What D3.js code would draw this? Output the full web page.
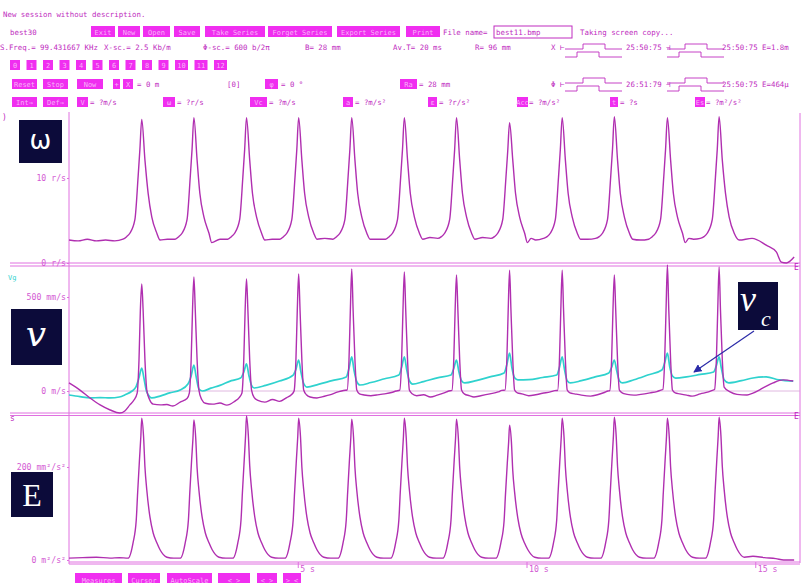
<!DOCTYPE html>
<html>
<head>
<meta charset="utf-8">
<script src="https://cdn.jsdelivr.net/npm/d3@7"></script>
<style>
  html, body { margin: 0; padding: 0; background: #fff; overflow: hidden; }
  svg text.mono { font-family: "DejaVu Sans Mono", monospace; }
</style>
</head>
<body>
<script>
'use strict';

// ---- data: [time s, value] ----
const omega = [
  [0,2.7],[0.2,2.6],[0.4,2.8],[0.6,2.6],[0.8,2.7],[1.0,2.6],[1.18,2.8],
  [1.26,3.1],[1.33,3.5],[1.44,5.1],[1.51,10.1],[1.55,13.4],[1.59,16.9],[1.66,12.1],[1.73,8.2],[1.81,5.4],[1.92,3.5],[1.99,2.7],[2.15,2.8],
  [2.32,2.8],[2.40,3.1],[2.47,3.5],[2.58,5.1],[2.65,10.1],[2.69,13.4],[2.73,17.1],[2.80,12.1],[2.86,8.2],[2.95,5.4],[3.06,3.5],[3.12,2.4],[3.30,2.8],
  [3.47,2.8],[3.55,3.1],[3.62,3.5],[3.73,5.1],[3.80,10.1],[3.84,13.4],[3.88,17.1],[3.95,12.1],[4.01,8.2],[4.10,5.4],[4.21,3.5],[4.28,2.7],[4.44,2.8],
  [4.61,2.8],[4.69,3.1],[4.76,3.5],[4.87,5.1],[4.94,10.1],[4.98,13.4],[5.02,17.1],[5.09,12.1],[5.15,8.2],[5.24,5.4],[5.35,3.5],[5.42,2.8],[5.59,2.9],
  [5.77,2.8],[5.85,3.1],[5.92,3.5],[6.03,5.1],[6.10,10.1],[6.14,13.4],[6.18,17.1],[6.25,12.1],[6.31,8.2],[6.40,5.4],[6.51,3.5],[6.58,2.8],[6.75,2.8],
  [6.92,2.8],[7.00,3.1],[7.07,3.5],[7.18,5.1],[7.25,10.1],[7.29,13.4],[7.33,17.1],[7.40,12.1],[7.46,8.2],[7.55,5.4],[7.66,3.5],[7.73,2.8],[7.89,3.0],
  [8.06,2.9],[8.14,3.1],[8.21,3.5],[8.32,5.1],[8.39,10.1],[8.43,13.4],[8.47,17.1],[8.54,12.1],[8.60,8.2],[8.69,5.4],[8.80,3.5],[8.87,2.8],[9.04,3.0],
  [9.22,2.9],[9.30,3.1],[9.37,3.5],[9.48,5.1],[9.55,10.0],[9.59,13.2],[9.63,16.5],[9.70,12.1],[9.76,8.2],[9.85,5.4],[9.96,3.5],[10.02,2.4],[10.10,2.9],[10.20,2.7],
  [10.37,2.9],[10.45,3.1],[10.52,3.5],[10.63,5.1],[10.70,10.1],[10.74,13.4],[10.78,17.1],[10.85,12.1],[10.91,8.2],[11.00,5.4],[11.11,3.5],[11.18,2.8],[11.34,2.8],
  [11.51,2.9],[11.59,3.1],[11.66,3.5],[11.77,5.1],[11.84,10.1],[11.88,13.4],[11.92,17.2],[11.99,12.1],[12.05,8.2],[12.14,5.4],[12.25,3.5],[12.32,2.8],[12.49,2.7],
  [12.67,2.8],[12.75,3.1],[12.82,3.5],[12.93,5.1],[13.00,10.1],[13.04,13.4],[13.08,17.1],[13.15,12.1],[13.21,8.2],[13.30,5.4],[13.41,3.5],[13.47,2.4],[13.55,2.9],[13.65,2.8],
  [13.80,2.9],[13.88,3.1],[13.95,3.5],[14.06,5.1],[14.13,10.1],[14.17,13.4],[14.21,17.2],[14.28,12.1],[14.35,8.2],[14.43,5.4],[14.54,3.5],[14.65,2.7],
  [14.93,2.9],[15.24,2.1],[15.46,1.3],[15.57,0.1],[15.68,0.0],[15.85,0.7]
];

const velocity = [
  [0,43],[0.24,5],[0.46,-37],[0.68,-74],[0.90,-101],[1.11,-117],[1.22,-106],[1.33,-74],[1.42,-48],
  [1.49,-11],[1.53,165],[1.56,431],[1.59,569],[1.62,431],[1.66,165],[1.70,5],
  [1.76,-45],[1.84,-70],[2.00,-74],[2.14,-72],[2.27,-80],[2.43,-59],[2.58,-40],
  [2.63,-11],[2.67,165],[2.70,431],[2.73,607],[2.76,431],[2.80,165],[2.84,5],
  [2.90,-45],[2.98,-65],[3.14,-70],[3.30,-64],[3.45,-75],[3.62,-55],[3.72,-35],
  [3.78,-11],[3.82,165],[3.85,431],[3.88,596],[3.91,431],[3.95,165],[3.99,5],
  [4.05,-35],[4.13,-50],[4.28,-59],[4.45,-45],[4.60,-55],[4.76,-35],[4.86,-20],
  [4.92,0],[4.96,165],[4.99,431],[5.02,622],[5.05,431],[5.09,165],[5.13,5],
  [5.19,-20],[5.27,-32],[5.42,-37],[5.55,-30],[5.70,-21],[5.88,-5],[6.00,3],
  [6.08,5],[6.12,165],[6.15,431],[6.18,649],[6.21,431],[6.25,165],[6.29,5],
  [6.35,-15],[6.45,-21],[6.60,-25],[6.72,-21],[6.90,-15],[7.05,-8],[7.15,0],
  [7.23,5],[7.27,165],[7.30,431],[7.33,633],[7.36,431],[7.40,165],[7.44,5],
  [7.50,-15],[7.60,-25],[7.75,-20],[7.90,-32],[8.05,-22],[8.20,-10],[8.30,0],
  [8.37,3],[8.41,165],[8.44,431],[8.47,617],[8.50,431],[8.54,165],[8.58,5],
  [8.64,-15],[8.75,-25],[8.85,-32],[9.00,-25],[9.20,-15],[9.38,-5],[9.46,3],
  [9.53,5],[9.57,165],[9.60,431],[9.63,643],[9.66,431],[9.70,165],[9.74,5],
  [9.80,-10],[9.90,-15],[10.05,-25],[10.20,-20],[10.35,-12],[10.52,-5],[10.62,2],
  [10.68,3],[10.72,165],[10.75,431],[10.78,643],[10.81,431],[10.85,165],[10.89,5],
  [10.95,-10],[11.05,-15],[11.20,-22],[11.40,-27],[11.55,-20],[11.70,-8],[11.78,0],
  [11.82,2],[11.86,165],[11.89,431],[11.92,617],[11.95,431],[11.99,165],[12.03,5],
  [12.09,-10],[12.20,-18],[12.35,-22],[12.50,-18],[12.70,-10],[12.85,-3],[12.94,5],
  [12.98,8],[13.02,165],[13.05,431],[13.08,670],[13.11,431],[13.15,165],[13.19,5],
  [13.25,-10],[13.35,-15],[13.50,-22],[13.62,-27],[13.80,-15],[13.98,-5],[14.08,5],
  [14.11,8],[14.15,165],[14.18,431],[14.21,660],[14.24,431],[14.28,165],[14.32,21],
  [14.45,-5],[14.60,-18],[14.82,-21],[14.95,-11],[15.17,16],[15.39,43],[15.61,59],[15.83,53]
];

const velocityC = [
  [0,-21],[0.24,-30],[0.46,-37],[0.68,-35],[0.90,-37],[1.10,-32],[1.22,-21],[1.38,0],[1.46,20],
  [1.53,70],[1.59,122],[1.64,65],[1.70,-5],[1.81,-37],[1.99,-27],[2.20,-10],[2.43,5],[2.60,37],
  [2.67,80],[2.73,138],[2.78,75],[2.84,10],[2.92,0],[3.10,15],[3.30,30],[3.55,55],[3.75,69],
  [3.82,100],[3.88,144],[3.93,85],[3.99,30],[4.05,16],[4.30,30],[4.60,53],[4.90,85],
  [4.96,115],[5.02,165],[5.07,100],[5.13,40],[5.20,21],[5.45,35],[5.75,55],[6.06,75],
  [6.12,120],[6.18,181],[6.23,110],[6.29,50],[6.36,32],[6.60,45],[6.90,65],[7.21,85],
  [7.27,125],[7.33,181],[7.38,115],[7.44,55],[7.51,37],[7.75,50],[8.05,70],[8.35,85],
  [8.41,120],[8.47,165],[8.52,105],[8.58,55],[8.65,43],[8.90,55],[9.20,75],[9.51,96],
  [9.57,140],[9.63,202],[9.68,125],[9.74,70],[9.81,59],[10.05,60],[10.35,72],[10.66,85],
  [10.72,125],[10.78,181],[10.83,115],[10.89,55],[10.96,43],[11.20,55],[11.50,75],[11.80,96],
  [11.86,125],[11.92,165],[11.97,110],[12.03,55],[12.10,43],[12.35,60],[12.65,85],[12.96,112],
  [13.02,150],[13.08,202],[13.13,130],[13.19,80],[13.26,69],[13.50,75],[13.80,88],[14.09,101],
  [14.15,135],[14.21,181],[14.26,120],[14.32,60],[14.42,43],[14.70,55],[14.95,69],[15.24,75],[15.52,59],[15.83,53]
];

const energy = [
  [0,4],[0.3,5],[0.6,6],[0.9,4],[1.1,5],
  [1.29,4],[1.40,37],[1.47,86],[1.50,144],[1.54,215],[1.57,265],[1.59,305],[1.63,265],[1.66,200],[1.70,151],[1.77,92],[1.84,58],[1.92,37],[1.99,22],[2.14,6],[2.29,4],
  [2.43,4],[2.54,37],[2.61,86],[2.64,144],[2.68,215],[2.71,262],[2.73,301],[2.77,262],[2.80,198],[2.84,150],[2.91,92],[2.98,58],[3.06,37],[3.13,22],[3.28,6],[3.43,4],
  [3.58,4],[3.69,37],[3.76,86],[3.79,144],[3.83,215],[3.86,268],[3.88,310],[3.92,268],[3.95,203],[3.99,153],[4.06,93],[4.13,58],[4.21,37],[4.28,22],[4.43,6],[4.58,4],
  [4.72,4],[4.83,37],[4.90,86],[4.93,144],[4.97,215],[5.00,265],[5.02,305],[5.06,265],[5.09,200],[5.13,151],[5.20,92],[5.27,58],[5.35,37],[5.42,22],[5.57,6],[5.72,4],
  [5.88,4],[5.99,37],[6.06,86],[6.09,144],[6.13,215],[6.16,263],[6.18,303],[6.22,263],[6.25,199],[6.29,150],[6.36,92],[6.43,58],[6.51,37],[6.58,22],[6.73,6],[6.88,4],
  [7.03,4],[7.14,37],[7.21,86],[7.24,144],[7.28,215],[7.31,265],[7.33,305],[7.37,265],[7.40,200],[7.44,151],[7.51,92],[7.58,58],[7.66,37],[7.73,22],[7.88,6],[8.03,4],
  [8.17,4],[8.28,37],[8.35,86],[8.38,144],[8.42,215],[8.45,263],[8.47,303],[8.51,263],[8.54,199],[8.58,150],[8.65,92],[8.72,58],[8.80,37],[8.87,22],[9.02,6],[9.17,4],
  [9.33,4],[9.44,37],[9.51,84],[9.54,140],[9.58,208],[9.61,254],[9.63,290],[9.67,254],[9.70,192],[9.74,146],[9.81,90],[9.88,57],[9.96,36],[10.03,22],[10.18,6],[10.33,4],
  [10.48,4],[10.59,37],[10.66,86],[10.69,144],[10.73,215],[10.76,265],[10.78,305],[10.82,265],[10.85,200],[10.89,151],[10.96,92],[11.03,58],[11.11,37],[11.18,22],[11.33,6],[11.48,4],
  [11.62,4],[11.73,37],[11.80,86],[11.83,144],[11.87,216],[11.90,267],[11.92,307],[11.96,267],[11.99,201],[12.03,152],[12.10,92],[12.17,58],[12.25,37],[12.32,22],[12.47,6],[12.62,4],
  [12.78,4],[12.89,37],[12.96,86],[12.99,144],[13.03,215],[13.06,265],[13.08,305],[13.12,265],[13.15,200],[13.19,151],[13.26,92],[13.33,58],[13.41,37],[13.48,22],[13.63,6],[13.78,4],
  [13.91,4],[14.02,37],[14.09,86],[14.12,144],[14.16,216],[14.19,267],[14.21,307],[14.25,267],[14.28,201],[14.32,152],[14.39,92],[14.46,58],[14.54,37],[14.61,22],[14.76,6],
  [14.95,8],[15.20,5],[15.45,3],[15.62,0],[15.85,0]
];

// tick values and labels
const timeTicks = [5, 10, 15];
const timeLabels = ["5 s", "10 s", "15 s"];
const omegaTicks = [0, 10];
const omegaLabels = ["0 r/s", "10 r/s"];
const vTicks = [0, 500];
const vLabels = ["0 m/s", "500 mm/s"];
const eTicks = [0, 200];
const eLabels = ["0 m\u00b2/s\u00b2", "200 mm\u00b2/s\u00b2"];

// ---- screen layout of the acquisition program ----
const MAG = "#b02fb0";
const FRAME = "#e070e0";
const BTN = "#f02ef0";
const TXT = "#c02cc0";
const CYAN = "#2fd2ce";

const svg = d3.select("body").append("svg")
  .attr("width", 809).attr("height", 583);

const x = d3.scaleLinear().domain([0, 16]).range([69, 801]);
const yW = d3.scaleLinear().domain([0, 10]).range([263, 178]);
const yV = d3.scaleLinear().domain([0, 500]).range([391, 297]);
const yE = d3.scaleLinear().domain([0, 200]).range([560, 467]);

function text(g, px, py, s, opts) {
  opts = opts || {};
  return g.append("text").attr("class", "mono")
    .attr("x", px).attr("y", py)
    .attr("fill", opts.fill || TXT)
    .attr("font-size", opts.size || 7.4)
    .attr("text-anchor", opts.anchor || "start")
    .text(s);
}

function button(g, bx, by, w, h, label) {
  g.append("rect").attr("x", bx).attr("y", by).attr("width", w).attr("height", h)
    .attr("fill", BTN);
  g.append("text").attr("class", "mono").attr("x", bx + w / 2).attr("y", by + h - 2.5)
    .attr("text-anchor", "middle").attr("font-size", 7).attr("fill", "#f8b4f8")
    .text(label);
}

function wave(g, wx, wy) {
  g.append("path")
    .attr("d", `M${wx},${wy + 6}h18v-5h22v5h17 M${wx},${wy + 14}h12v-5h22v5h23`)
    .attr("fill", "none").attr("stroke", TXT).attr("stroke-width", 0.9);
}

// header
const head = svg.append("g");
const headerTexts = [
  [3, 17, "New session without description."],
  [10, 35, "best30"],
  [443, 35, "File name="],
  [580, 35, "Taking screen copy..."],
  [0, 50, "S.Freq.= 99.431667 KHz"],
  [104, 50, "X-sc.= 2.5 Kb/m"],
  [203, 50, "\u03a6-sc.= 600 b/2\u03c0"],
  [305, 50, "B= 28 mm"],
  [393, 50, "Av.T= 20 ms"],
  [475, 50, "R= 96 mm"],
  [551, 50, "X \u22a2"],
  [626, 50, "25:50:75 \u22a3"],
  [722, 50, "25:50:75 E=1.8m"],
  [137, 87, "= 0 m"],
  [227, 87, "[0]"],
  [281, 87, "= 0 \u00b0"],
  [419, 87, "= 28 mm"],
  [551, 87, "\u03a6 \u22a2"],
  [626, 87, "26:51:79 \u22a3"],
  [722, 87, "25:50:75 E=464\u03bc"],
  [90, 105, "= ?m/s"], [177, 105, "= ?r/s"], [269, 105, "= ?m/s"], [355, 105, "= ?m/s\u00b2"],
  [439, 105, "= ?r/s\u00b2"], [529, 105, "= ?m/s\u00b2"], [620, 105, "= ?s"], [706, 105, "= ?m\u00b2/s\u00b2"]
];
headerTexts.forEach(t => text(head, t[0], t[1], t[2]));

const buttons = [
  [91, 26, 24, 11, "Exit"], [118, 26, 22, 11, "New"], [143, 26, 27, 11, "Open"], [174, 26, 26, 11, "Save"],
  [205, 26, 60, 11, "Take Series"], [268, 26, 64, 11, "Forget Series"], [337, 26, 63, 11, "Export Series"],
  [406, 26, 34, 11, "Print"],
  [12, 79, 25, 10, "Reset"], [43, 79, 25, 10, "Stop"], [77, 79, 26, 10, "Now"], [113, 79, 7, 10, "+"],
  [123, 79, 10, 10, "X"], [265, 79, 13, 10, "\u03c6"], [400, 79, 17, 10, "Ra"],
  [12, 97, 25, 10, "Int\u2192"], [43, 97, 25, 10, "Def\u2192"], [77, 97, 11, 10, "V"], [163, 97, 12, 10, "\u03c9"],
  [250, 97, 17, 10, "Vc"], [343, 97, 10, 10, "a"], [428, 97, 9, 10, "\u03b5"], [517, 97, 11, 10, "Acc"],
  [610, 97, 8, 10, "t"], [695, 97, 10, 10, "Es"],
  [75, 573, 47, 12, "Measures"], [128, 573, 32, 12, "Cursor"], [167, 573, 45, 12, "AutoScale"],
  [218, 573, 32, 12, "< >"], [257, 573, 20, 12, "< >"], [283, 573, 18, 12, "> <"]
];
buttons.forEach(b => button(head, b[0], b[1], b[2], b[3], b[4]));

const channels = ["0","1","2","3","4","5","6","7","8","9","10","11","12"];
let cx = 10;
channels.forEach(c => {
  const w = c.length > 1 ? 13 : 10;
  button(head, cx, 60, w, 10, c);
  cx += w + 6.5;
});

head.append("rect").attr("x", 494).attr("y", 26).attr("width", 78).attr("height", 12)
  .attr("fill", "#fff").attr("stroke", TXT).attr("stroke-width", 1);
text(head, 496, 35, "best11.bmp");
wave(head, 565, 43); wave(head, 667, 43);
wave(head, 565, 77); wave(head, 667, 77);

// frame lines
const frame = svg.append("g").attr("stroke", FRAME).attr("fill", "none");
frame.append("line").attr("x1", 69).attr("x2", 69).attr("y1", 112).attr("y2", 564);
frame.append("line").attr("x1", 800).attr("x2", 800).attr("y1", 113).attr("y2", 563);
[[10, 263], [10, 266], [10, 413], [10, 415.5], [69, 562], [69, 564]].forEach(l => {
  frame.append("line").attr("x1", l[0]).attr("x2", 800).attr("y1", l[1]).attr("y2", l[1]);
});
frame.append("line").attr("x1", 69).attr("x2", 800)
  .attr("y1", yV(0)).attr("y2", yV(0)).attr("stroke", "#d8a6d8").attr("stroke-width", 0.8);

// axes
function styleAxis(g) {
  g.select(".domain").remove();
  g.selectAll("line").attr("stroke", FRAME);
  g.selectAll("text").attr("class", "mono").attr("fill", "#d35ad3").attr("font-size", 8.2);
}
function leftAxis(scale, ticks, labels) {
  svg.append("g").attr("transform", "translate(69,0)")
    .call(d3.axisLeft(scale).tickValues(ticks).tickFormat((d, i) => labels[i]).tickSize(2).tickPadding(1))
    .call(styleAxis);
}
leftAxis(yW, omegaTicks, omegaLabels);
leftAxis(yV, vTicks, vLabels);
leftAxis(yE, eTicks, eLabels);

svg.append("g").attr("transform", "translate(0,562)")
  .call(d3.axisBottom(x).tickValues(timeTicks).tickFormat((d, i) => timeLabels[i]).tickSize(6))
  .call(styleAxis)
  .call(g => g.selectAll("text").attr("text-anchor", "start").attr("dx", 2).attr("y", 4));

// traces
function trace(data, y, color, width) {
  const line = d3.line().x(d => x(d[0])).y(d => y(d[1])).curve(d3.curveMonotoneX);
  svg.append("path").datum(data)
    .attr("fill", "none").attr("stroke", color).attr("stroke-width", width)
    .attr("stroke-linejoin", "round").attr("d", line);
}
trace(omega, yW, MAG, 1.4);
trace(velocityC, yV, CYAN, 1.7);
trace(velocity, yV, MAG, 1.4);
trace(energy, yE, MAG, 1.4);

// small marks of the program
text(svg, 2, 120, ")", { size: 8 });
text(svg, 8, 280, "Vg", { size: 7, fill: CYAN });
text(svg, 10, 421, "s", { size: 8 });
text(svg, 794, 270, "E", { size: 8, fill: "#c020c0" });
text(svg, 794, 419, "E", { size: 8, fill: "#c020c0" });

// label boxes
const NAVY = "#0c0b3a";
const boxes = svg.append("g");
boxes.append("rect").attr("x", 19).attr("y", 120).attr("width", 43).attr("height", 43).attr("fill", NAVY);
boxes.append("text").attr("x", 40.5).attr("y", 149).attr("text-anchor", "middle")
  .style("font-family", "'DejaVu Sans', sans-serif").attr("font-size", 26).attr("fill", "#fff").text("\u03c9");
boxes.append("rect").attr("x", 11).attr("y", 309).attr("width", 51).attr("height", 56).attr("fill", NAVY);
boxes.append("text").attr("x", 36).attr("y", 346).attr("text-anchor", "middle")
  .style("font-family", "'DejaVu Serif', serif").style("font-style", "italic").attr("font-size", 36)
  .attr("fill", "#fff").text("v");
boxes.append("rect").attr("x", 11).attr("y", 472).attr("width", 42).attr("height", 45).attr("fill", NAVY);
boxes.append("text").attr("x", 32).attr("y", 506).attr("text-anchor", "middle")
  .style("font-family", "'Liberation Serif', serif").attr("font-size", 32).attr("fill", "#fff").text("E");
boxes.append("rect").attr("x", 738).attr("y", 282).attr("width", 40).attr("height", 48).attr("fill", NAVY);
boxes.append("text").attr("x", 740).attr("y", 311)
  .style("font-family", "'Liberation Serif', serif").style("font-style", "italic").attr("font-size", 36)
  .attr("fill", "#fff").text("v");
boxes.append("text").attr("x", 761).attr("y", 326)
  .style("font-family", "'Liberation Serif', serif").style("font-style", "italic").attr("font-size", 22)
  .attr("fill", "#fff").text("c");

svg.append("defs").append("marker").attr("id", "arr")
  .attr("viewBox", "0 0 10 10").attr("refX", 9).attr("refY", 5)
  .attr("markerWidth", 7).attr("markerHeight", 7).attr("orient", "auto")
  .append("path").attr("d", "M0,0L10,5L0,10z").attr("fill", "#2b2ba8");
svg.append("line").attr("x1", 754).attr("y1", 331).attr("x2", 694).attr("y2", 372)
  .attr("stroke", "#2b2ba8").attr("stroke-width", 1.2).attr("marker-end", "url(#arr)");
</script>
</body>
</html>
